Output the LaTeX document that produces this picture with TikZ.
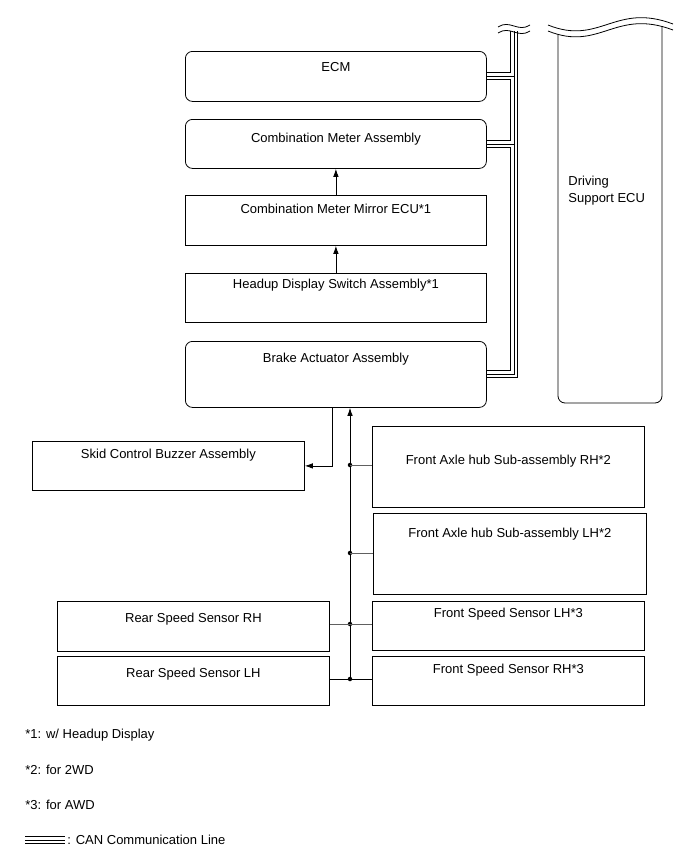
\documentclass[tikz,border=0pt]{standalone}
\usepackage{fontspec}
\setmainfont{Liberation Sans}
\usetikzlibrary{arrows.meta}

\begin{document}
\begin{tikzpicture}[x=1pt,y=-1pt, line width=0.8pt,
    every node/.style={font=\fontsize{13}{17}\selectfont, inner sep=0pt},
    unit/.style={draw, anchor=north west, align=center},
    ecu/.style={unit, rounded corners=7pt},
    dot/.style={fill=black, circle, minimum size=4.5pt},
    tap/.style={gray!75!black},
    sig/.style={-{Latex[length=8pt,width=5.5pt]}},
    can/.style={line width=8pt, postaction={draw, white, line width=6pt}, postaction={draw, black, line width=0.8pt}}]

    \useasboundingbox (0,0) rectangle (691,855);

    %===========================
    % Centre column
    %===========================
    \draw node (ecm) at (185,51) [ecu, minimum width=301pt, text height=20pt, text depth=30pt] {ECM};
    \draw node (meter) at (185,119) [ecu, minimum width=301pt, text height=23pt, text depth=26pt] {Combination Meter Assembly};
    \draw node (mirror) at (185,195) [unit, minimum width=301pt, text height=18pt, text depth=32pt] {Combination Meter Mirror ECU*1};
    \draw node (hud) at (185,273) [unit, minimum width=301pt, text height=15pt, text depth=34pt] {Headup Display Switch Assembly*1};
    \draw node (brake) at (185,341) [ecu, minimum width=301pt, text height=21pt, text depth=45pt] {Brake Actuator Assembly};

    \draw[sig] (mirror.north) to (meter.south);
    \draw[sig] (hud.north) to (mirror.south);

    %===========================
    % Driving Support ECU
    %===========================
    \begin{scope}
        \clip (548,31) .. controls (600,52) and (615,8) .. (673,30) -- (673,420) -- (548,420) -- cycle;
        \draw[rounded corners=7pt] (558,0) rectangle (662,403);
    \end{scope}
    \draw (548,31) .. controls (600,52) and (615,8) .. (673,30);
    \draw (548,25) .. controls (600,46) and (615,2) .. (673,24);
    \node (dsecu) at (568,191) [anchor=west, align=left] {Driving\\Support ECU};

    %===========================
    % CAN bus
    %===========================
    \coordinate (cantop) at (514,31);
    \draw[can] (cantop) |- (brake.east)
        (ecm.east) -- (ecm.east -| cantop)
        (meter.east) -- (meter.east -| cantop);
    \draw (498,27) .. controls (510,19) and (518,33) .. (530,25);
    \draw (498,33) .. controls (510,25) and (518,39) .. (530,31);

    %===========================
    % Lower parts
    %===========================
    \draw node (buzzer) at (32,441) [unit, minimum width=272pt, text height=17pt, text depth=32pt] {Skid Control Buzzer Assembly};
    \draw node (axleR) at (372,426) [unit, minimum width=272pt, text height=38pt, text depth=43pt] {Front Axle hub Sub-assembly RH*2};
    \draw node (axleL) at (373,513) [unit, minimum width=273pt, text height=24pt, text depth=57pt] {Front Axle hub Sub-assembly LH*2};
    \draw node (rearR) at (57,601) [unit, minimum width=272pt, text height=21pt, text depth=29pt] {Rear Speed Sensor RH};
    \draw node (rearL) at (57,656) [unit, minimum width=272pt, text height=21pt, text depth=28pt] {Rear Speed Sensor LH};
    \draw node (frontL) at (372,601) [unit, minimum width=272pt, text height=16pt, text depth=33pt] {Front Speed Sensor LH*3};
    \draw node (frontR) at (372,656) [unit, minimum width=272pt, text height=17pt, text depth=32pt] {Front Speed Sensor RH*3};

    % Buzzer output
    \coordinate (out) at (332,466);
    \draw[sig] (brake.south -| out) |- (buzzer.east);

    % Sensor inputs
    \node (j1) at (350,465) [dot] {};
    \node (j2) at (350,553) [dot] {};
    \node (j3) at (350,624) [dot] {};
    \node (j4) at (350,679) [dot] {};
    \draw[sig] (j4.center) to (brake.south -| j4);
    \draw[tap] (j1.center) -- (j1 -| axleR.west);
    \draw[tap] (j2.center) -- (j2 -| axleL.west);
    \draw[tap] (j3 -| rearR.east) -- (j3 -| frontL.west);
    \draw (j4 -| rearL.east) -- (j4 -| frontR.west);

    %===========================
    % Notes
    %===========================
    \node (note1) at (25,735) [anchor=west] {*1: w/ Headup Display};
    \node (note2) at (25,770) [anchor=west] {*2: for 2WD};
    \node (note3) at (25,805) [anchor=west] {*3: for AWD};
    \coordinate (key) at (25,840);
    \draw[can] (key) -- ++(40,0) coordinate (keyend);
    \node (note4) at (keyend) [anchor=west, xshift=2pt] {: CAN Communication Line};

\end{tikzpicture}
\end{document}
